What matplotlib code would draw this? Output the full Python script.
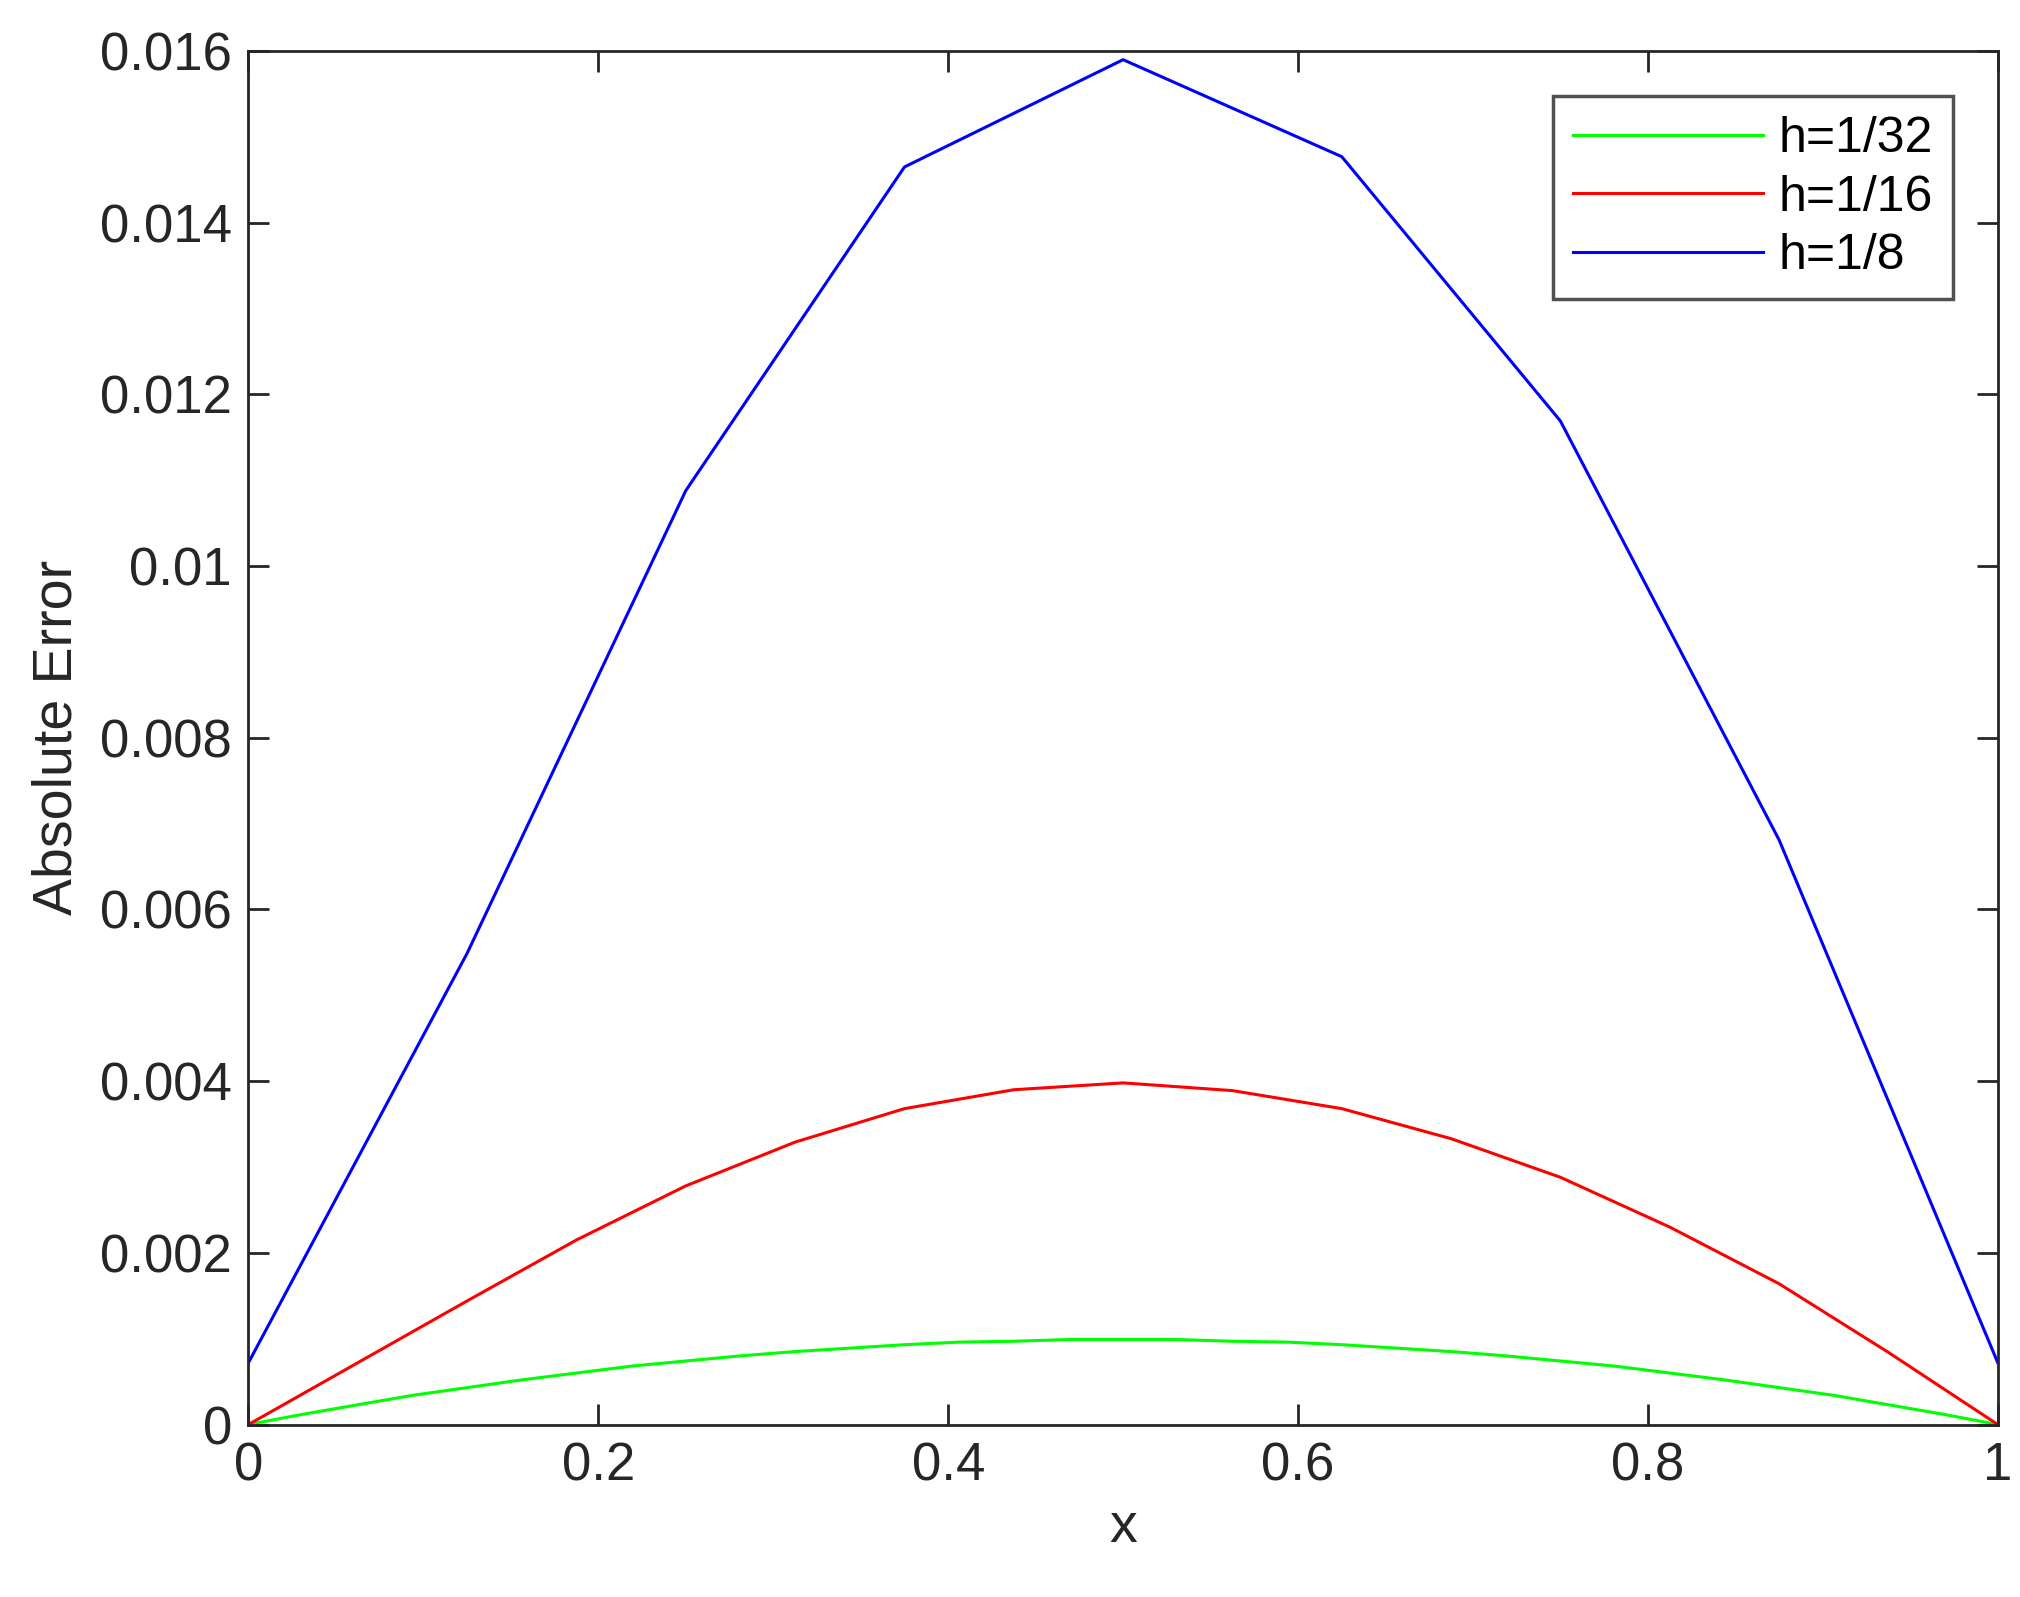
import numpy as np
import matplotlib.pyplot as plt

plt.rcParams['font.family'] = ['Liberation Sans', 'DejaVu Sans']

x8 = np.linspace(0, 1, 9)
err8 = [0.00072, 0.00549, 0.01088, 0.01465, 0.0159, 0.01477, 0.01169, 0.00681, 0.00072]

x16 = np.linspace(0, 1, 17)
err16 = [0.0, 0.00072, 0.00144, 0.00215, 0.00278, 0.00329, 0.00368, 0.0039, 0.00398,
         0.00389, 0.00368, 0.00333, 0.00288, 0.0023, 0.00164, 0.00084, 0.0]

x32 = np.linspace(0, 1, 33)
half32 = [0.0, 0.00012, 0.00023, 0.00034, 0.00043, 0.00052, 0.0006, 0.00068, 0.00074,
          0.0008, 0.00085, 0.00089, 0.00093, 0.00096, 0.00097, 0.00099]
err32 = half32 + [0.00099] + half32[::-1]

ytick_labels = ['0', '0.002', '0.004', '0.006', '0.008', '0.01', '0.012', '0.014', '0.016']

fig = plt.figure(figsize=(20.2, 15.97), dpi=100)
ax = fig.add_axes([0.123, 0.108, 0.866, 0.860])
ax.plot(x32, err32, color='#00ff00', lw=2.2, label='h=1/32')
ax.plot(x16, err16, color='#ff0000', lw=2.2, label='h=1/16')
ax.plot(x8, err8, color='#0000ff', lw=2.2, label='h=1/8')

ax.set_xlim(0, 1)
ax.set_ylim(0, 0.016)
ax.set_xticks([0, 0.2, 0.4, 0.6, 0.8, 1])
ax.set_xticklabels(['0', '0.2', '0.4', '0.6', '0.8', '1'])
ax.set_yticks(np.linspace(0, 0.016, 9))
ax.set_yticklabels(ytick_labels)
ax.tick_params(direction='in', top=True, right=True, length=15, width=2,
               labelsize=38, colors='#262626', pad=12)
for s in ax.spines.values():
    s.set_linewidth(2)
    s.set_color('#262626')
ax.set_xlabel('x', fontsize=40, color='#262626', labelpad=8)
ax.set_ylabel('Absolute Error', fontsize=40, color='#262626', labelpad=12)

leg = ax.legend(loc='upper right', fontsize=36, fancybox=False, edgecolor='#262626',
                handlelength=3.8, borderaxespad=0.9, labelspacing=0.25,
                handletextpad=0.3, borderpad=0.4)
leg.get_frame().set_linewidth(2.5)

fig.savefig('out.png')
